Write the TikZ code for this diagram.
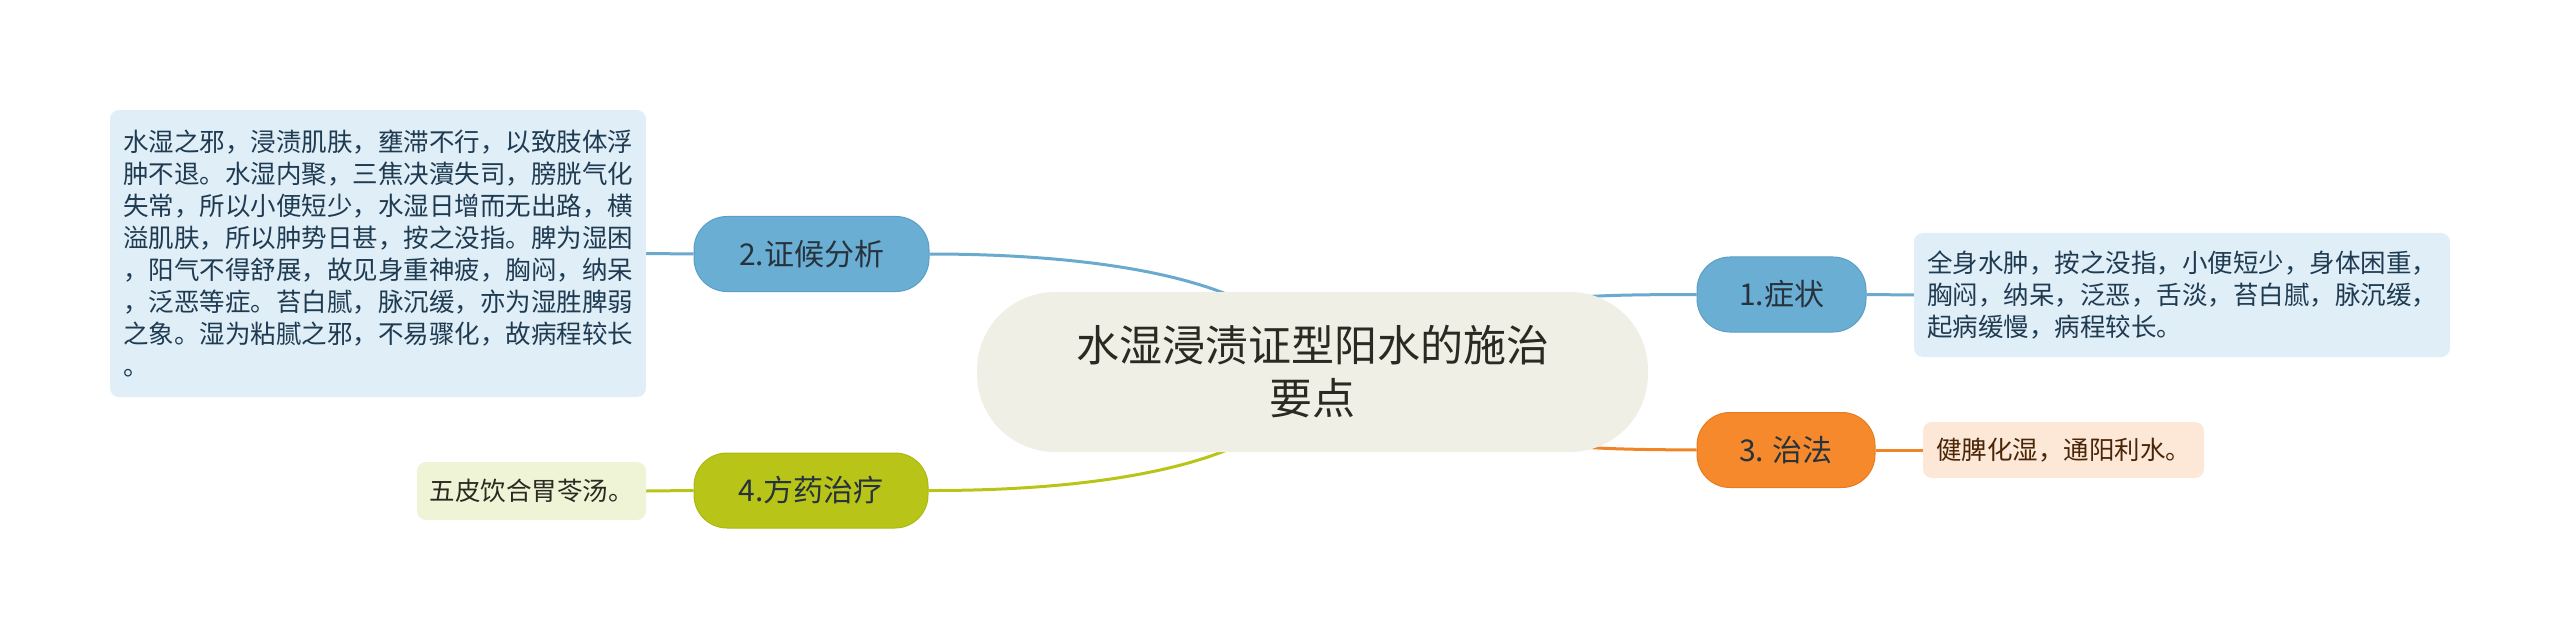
\documentclass[tikz,border=0pt]{standalone}
\usepackage{fontspec}
\newfontfamily\cjk{Noto Sans CJK SC}
\usetikzlibrary{backgrounds}
\definecolor{cblue}{HTML}{6AAED3}
\definecolor{cblueline}{HTML}{6BAACF}
\definecolor{cblued}{HTML}{5C9FC6}
\definecolor{corange}{HTML}{F5892B}
\definecolor{corangel}{HTML}{F08426}
\definecolor{corganged}{HTML}{E57C22}
\definecolor{cgreen}{HTML}{B8C417}
\definecolor{cgreend}{HTML}{ADB914}
\definecolor{ccenter}{HTML}{EFEFE6}
\definecolor{cboxblue}{HTML}{DFEEF7}
\definecolor{cboxpeach}{HTML}{FDE8D8}
\definecolor{cboxgreen}{HTML}{F0F4D6}
\definecolor{ctextblue}{HTML}{1F3B52}
\definecolor{ctextbrown}{HTML}{4A2608}
\definecolor{ctextdark}{HTML}{2A2A22}
\definecolor{ctextnode}{HTML}{26323C}
\tikzset{
  topic/.style={font=\cjk\fontsize{30}{36}\selectfont, text=ctextnode, rounded corners=33, minimum height=75, inner sep=0pt, line width=1pt},
  note/.style={font=\cjk\fontsize{25.5}{32}\selectfont, rounded corners=9, inner sep=0pt, align=left},
  link/.style={line width=3pt},
}
\begin{document}
\begin{tikzpicture}[x=1pt,y=-1pt]
\useasboundingbox (0,0) rectangle (2560,639);
% central topic
\node[font=\cjk\fontsize{43}{53}\selectfont, text=ctextdark, fill=ccenter, rounded corners=78, minimum width=671, minimum height=160, inner sep=0pt, align=center] (c) at (1312.5,372) {水湿浸渍证型阳水的施治\\要点};
% main topics
\node[topic, fill=cblue, draw=cblued, minimum width=169] (n1) at (1781.5,294.5) {1.症状};
\node[topic, fill=cblue, draw=cblued, minimum width=235] (n2) at (811.5,254) {2.证候分析};
\node[topic, fill=corange, draw=corganged, minimum width=178] (n3) at (1786,450) {3. 治法};
\node[topic, fill=cgreen, draw=cgreend, minimum width=234] (n4) at (811,490.5) {4.方药治疗};
% notes
\node[note, fill=cboxblue, text=ctextblue, minimum width=536, minimum height=124] (b1) at (2182,295) {全身水肿，按之没指，小便短少，身体困重，\\胸闷，纳呆，泛恶，舌淡，苔白腻，脉沉缓，\\起病缓慢，病程较长。};
\node[note, fill=cboxblue, text=ctextblue, minimum width=536, minimum height=287] (b2) at (378,253.5) {水湿之邪，浸渍肌肤，壅滞不行，以致肢体浮\\肿不退。水湿内聚，三焦决瀆失司，膀胱气化\\失常，所以小便短少，水湿日增而无出路，横\\溢肌肤，所以肿势日甚，按之没指。脾为湿困\\，阳气不得舒展，故见身重神疲，胸闷，纳呆\\，泛恶等症。苔白腻，脉沉缓，亦为湿胜脾弱\\之象。湿为粘腻之邪，不易骤化，故病程较长\\。};
\node[note, fill=cboxpeach, text=ctextbrown, minimum width=281, minimum height=56] (b3) at (2063.5,450) {健脾化湿，通阳利水。};
\node[note, fill=cboxgreen, text=ctextdark, minimum width=229, minimum height=58] (b4) at (531.5,491) {五皮饮合胃苓汤。};
% connectors
\begin{scope}[on background layer]
\draw[link, cblueline] (n2.east) .. controls (1110,254) and (1290,282) .. (c.center);
\draw[link, cgreen] (n4.east) .. controls (1110,491) and (1290,462) .. (c.center);
\draw[link, cblueline] (c.center) .. controls (1480,294) and (1560,295) .. (n1.west);
\draw[link, corangel] (c.center) .. controls (1480,449) and (1560,449) .. (n3.west);
\draw[link, cblueline] (n1.east) -- (b1.west);
\draw[link, corangel] (n3.east) -- (b3.west);
\draw[link, cblueline] (n2.west) -- (b2.east);
\draw[link, cgreen] (n4.west) -- (b4.east);
\end{scope}
\end{tikzpicture}
\end{document}
